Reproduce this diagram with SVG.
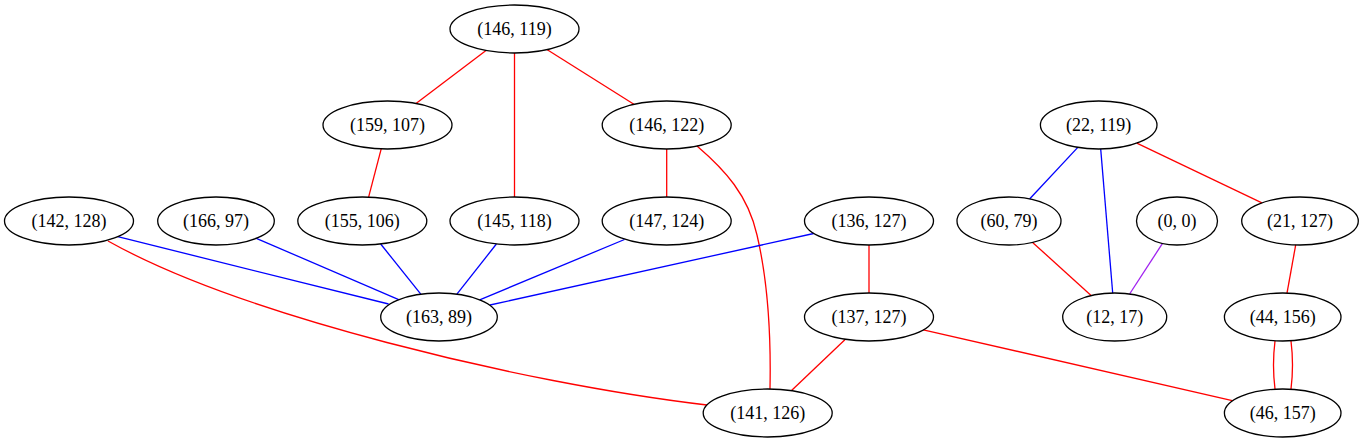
<svg xmlns="http://www.w3.org/2000/svg" width="1364" height="443" viewBox="0 0 1364 443">
<style>
.node ellipse{fill:none;stroke:#000;stroke-width:1.3}
.node text{font-family:"Liberation Serif","Times New Roman",serif;font-size:18px;text-anchor:middle;fill:#000}
.e{fill:none;stroke-width:1.3}
.r{stroke:#ff0000}
.b{stroke:#0000ff}
.p{stroke:#a020f0}
</style>
<rect x="0" y="0" width="1364" height="443" fill="#fff"/>
<g id="edges">
<path class="e r" d="M486,50.5L416,103.5"/>
<path class="e r" d="M514.5,53L514.5,197"/>
<path class="e r" d="M547.3,49.7L633.9,104.3"/>
<path class="e r" d="M381.2,148.9L368.6,197.1"/>
<path class="e r" d="M666.7,149L666.7,197"/>
<path class="e r" d="M697,146C725,170 748,195 757,235C768,282 771,340 770,389"/>
<path class="e b" d="M117.8,236.7L388.6,304"/>
<path class="e b" d="M256.3,238.3L398.7,299.7"/>
<path class="e b" d="M380.7,244L420.8,294.2"/>
<path class="e b" d="M496.4,244L456.9,294.2"/>
<path class="e b" d="M624.5,239.5L479.7,299.8"/>
<path class="e b" d="M813.7,233.5L490,305"/>
<path class="e r" d="M869,245L869,293"/>
<path class="e r" d="M845.4,339.3L791.3,390.7"/>
<path class="e r" d="M923.3,329.8L1232.3,400.6"/>
<path class="e r" d="M108,241C240,315 520,383 707,405"/>
<path class="e b" d="M1077.8,147.4L1029.6,199"/>
<path class="e b" d="M1100.7,149L1112.7,293"/>
<path class="e r" d="M1136.8,143.2L1261.9,202.8"/>
<path class="e r" d="M1032.6,242.4L1091.1,295.6"/>
<path class="e p" d="M1162.5,243.4L1129.6,294"/>
<path class="e r" d="M1295.7,244.9L1287,293.1"/>
<path class="e r" d="M1275,341C1273,357 1273,373 1275,389"/>
<path class="e r" d="M1291,341C1293,357 1293,373 1291,389"/>
</g>
<g id="n1" class="node"><ellipse cx="514.5" cy="29" rx="64.5" ry="24"/><text x="514.5" y="34.5">(146, 119)</text></g>
<g id="n2" class="node"><ellipse cx="387.5" cy="125" rx="64.5" ry="24"/><text x="387.5" y="130.5">(159, 107)</text></g>
<g id="n3" class="node"><ellipse cx="666.7" cy="125" rx="64.5" ry="24"/><text x="666.7" y="130.5">(146, 122)</text></g>
<g id="n4" class="node"><ellipse cx="1098.7" cy="125" rx="58.3" ry="24"/><text x="1098.7" y="130.5">(22, 119)</text></g>
<g id="n5" class="node"><ellipse cx="69" cy="221" rx="64.5" ry="24"/><text x="69" y="226.5">(142, 128)</text></g>
<g id="n6" class="node"><ellipse cx="216" cy="221" rx="58.3" ry="24"/><text x="216" y="226.5">(166, 97)</text></g>
<g id="n7" class="node"><ellipse cx="362.3" cy="221" rx="64.5" ry="24"/><text x="362.3" y="226.5">(155, 106)</text></g>
<g id="n8" class="node"><ellipse cx="514.5" cy="221" rx="64.5" ry="24"/><text x="514.5" y="226.5">(145, 118)</text></g>
<g id="n9" class="node"><ellipse cx="666.7" cy="221" rx="64.5" ry="24"/><text x="666.7" y="226.5">(147, 124)</text></g>
<g id="n10" class="node"><ellipse cx="869" cy="221" rx="64.5" ry="24"/><text x="869" y="226.5">(136, 127)</text></g>
<g id="n11" class="node"><ellipse cx="1009" cy="221" rx="52" ry="24"/><text x="1009" y="226.5">(60, 79)</text></g>
<g id="n12" class="node"><ellipse cx="1177" cy="221" rx="40.5" ry="24"/><text x="1177" y="226.5">(0, 0)</text></g>
<g id="n13" class="node"><ellipse cx="1300" cy="221" rx="58.3" ry="24"/><text x="1300" y="226.5">(21, 127)</text></g>
<g id="n14" class="node"><ellipse cx="439" cy="317" rx="58.3" ry="24"/><text x="439" y="322.5">(163, 89)</text></g>
<g id="n15" class="node"><ellipse cx="869" cy="317" rx="64.5" ry="24"/><text x="869" y="322.5">(137, 127)</text></g>
<g id="n16" class="node"><ellipse cx="1114.7" cy="317" rx="52" ry="24"/><text x="1114.7" y="322.5">(12, 17)</text></g>
<g id="n17" class="node"><ellipse cx="1282.7" cy="317" rx="58.3" ry="24"/><text x="1282.7" y="322.5">(44, 156)</text></g>
<g id="n18" class="node"><ellipse cx="767.7" cy="413" rx="64.5" ry="24"/><text x="767.7" y="418.5">(141, 126)</text></g>
<g id="n19" class="node"><ellipse cx="1282.7" cy="413" rx="58.3" ry="24"/><text x="1282.7" y="418.5">(46, 157)</text></g>
</svg>
